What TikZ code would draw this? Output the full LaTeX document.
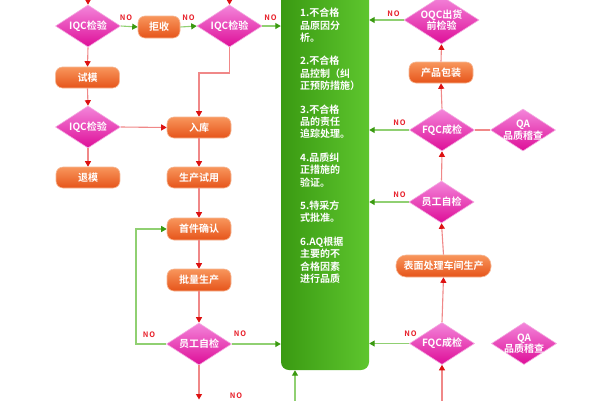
\documentclass[tikz,border=0pt]{standalone}
\usepackage{fontspec}
\setmainfont{Noto Sans CJK SC}[BoldFont={Noto Sans CJK SC Bold}]
\usetikzlibrary{shapes.geometric,arrows.meta}
\definecolor{diaTop}{HTML}{F385DA}
\definecolor{diaBot}{HTML}{DE0E98}
\definecolor{diaEdge}{HTML}{F4A8E0}
\definecolor{boxTop}{HTML}{F8965C}
\definecolor{boxBot}{HTML}{E6541A}
\definecolor{boxEdge}{HTML}{F6B896}
\definecolor{panL}{HTML}{3A9A12}
\definecolor{panR}{HTML}{5EC62E}
\definecolor{redLine}{HTML}{F08888}
\definecolor{redTip}{HTML}{DD1111}
\definecolor{greenLine}{HTML}{90D072}
\definecolor{greenTip}{HTML}{3A9A10}
\definecolor{noRed}{HTML}{E8202A}
\tikzset{
  dia/.style={diamond, shape aspect=1.55, inner sep=-3pt, minimum width=65pt, minimum height=42pt,
    top color=diaTop, bottom color=diaBot, draw=diaEdge, line width=0.6pt, text=white,
    font=\bfseries\fontsize{10}{11.5}\selectfont, align=center},
  obox/.style={rectangle, rounded corners=7pt, minimum width=64pt, minimum height=21pt, inner sep=0pt,
    top color=boxTop, bottom color=boxBot, draw=boxEdge, line width=0.6pt, text=white,
    font=\bfseries\fontsize{10}{11.5}\selectfont},
  ra/.style={draw=redLine, line width=1.1pt, -{Triangle[length=5.5pt,width=6pt,color=redTip]}},
  ga/.style={draw=greenLine, line width=1.1pt, -{Triangle[length=5.5pt,width=6pt,color=greenTip]}},
  nolab/.style={text=noRed, font=\bfseries\fontsize{7.5}{8}\selectfont\addfontfeature{LetterSpace=12}, inner sep=0pt},
  panel/.style={rectangle, rounded corners=8pt, left color=panL, right color=panR, draw=none,
    minimum width=88pt, minimum height=390pt, inner sep=0pt},
  ptext/.style={text=white, font=\bfseries\fontsize{10}{12.4}\selectfont, align=left, inner sep=0pt}
}
\begin{document}
\begin{tikzpicture}[x=1pt,y=-1pt]
\useasboundingbox (0,0) rectangle (600,400);
\fill[white] (0,0) rectangle (600,400);

% green panel
\node[panel] (pn) at (325,175) {};
\node[ptext, anchor=north west] (ptxt) at (300,8) {1.不合格\\品原因分\\析。\\[11pt]2.不合格\\品控制（纠\\正预防措施）\\[11pt]3.不合格\\品的责任\\追踪处理。\\[11pt]4.品质纠\\正措施的\\验证。\\[11pt]5.特采方\\式批准。\\[11pt]6.AQ根据\\主要的不\\合格因素\\进行品质};

% left column
\node[dia] (d1) at (88,26) {IQC检验};
\node[obox, minimum width=42pt, minimum height=22pt] (r1) at (159,27) {拒收};
\node[dia] (d2) at (229.5,26) {IQC检验};
\node[obox] (s1) at (87.5,77.5) {试模};
\node[dia] (d3) at (88,127) {IQC检验};
\node[obox] (t1) at (88,177.5) {退模};
\node[obox] (rk) at (199,127.5) {入库};
\node[obox] (sc) at (199,177.5) {生产试用};
\node[obox, minimum height=22pt] (sj) at (199,229) {首件确认};
\node[obox, minimum height=22pt] (pl) at (199,280) {批量生产};
\node[dia] (yg) at (199,344) {员工自检};

% right column
\node[dia, minimum width=75pt, minimum height=48pt] (oqc) at (441.5,20) {OQC出货\\前检验};
\node[obox] (bz) at (441,72.5) {产品包装};
\node[dia] (fqc1) at (442,130) {FQC成检};
\node[dia] (qa1) at (523,130) {QA\\品质稽查};
\node[dia] (yg2) at (441.5,202) {员工自检};
\node[obox, minimum width=95pt, minimum height=22pt, rounded corners=10pt] (bm) at (443.5,266) {表面处理车间生产};
\node[dia] (fqc2) at (442,343.5) {FQC成检};
\node[dia] (qa2) at (524,343.5) {QA\\品质稽查};

% free ends
\coordinate (in1) at (88,-14);
\coordinate (in2) at (229.5,-14);
\coordinate (out1) at (199,399.5);
\coordinate (gb) at (295,414);
\coordinate (rb) at (442,414);
\coordinate (bend) at (229.5,73);
\coordinate (loop) at (136,344);

% left connectors
\draw[ra] (in1) -- (d1.north);
\draw[ra] (in2) -- (d2.north);
\draw[ga] (d1.east) -- (r1.west);
\node[nolab] (n1) at (126,17.5) {NO};
\draw[ga] (r1.east) -- (d2.west);
\node[nolab] (n2) at (188.5,17.5) {NO};
\draw[ga] (d2.east) -- (d2.east -| pn.west);
\node[nolab] (n3) at (270.5,17.5) {NO};
\draw[ra] (d1.south) -- (s1.north);
\draw[ra] (s1.south) -- (d3.north);
\draw[ra] (d3.south) -- (t1.north);
\draw[ra] (d3.east) -- (rk.west);
\draw[ra] (d2.south) -- (bend) -| (rk.north);
\draw[ra] (rk.south) -- (sc.north);
\draw[ra] (sc.south) -- (sj.north);
\draw[ra] (sj.south) -- (pl.north);
\draw[ra] (pl.south) -- (yg.north);
\draw[ra] (yg.south) -- (out1);
\draw[ga] (yg.west) -- (loop) |- (sj.west);
\node[nolab] (n4) at (149,334.5) {NO};
\draw[ga] (yg.east) -- (yg.east -| pn.west);
\node[nolab] (n5) at (240,333.5) {NO};
\draw[ga] (gb) -- (gb |- pn.south);
\node[nolab] (n6) at (236,395.5) {NO};

% right connectors
\draw[ga] (oqc.west) -- (oqc.west -| pn.east);
\node[nolab] (n7) at (393.5,13.5) {NO};
\draw[ra] (bz.north) -- (oqc.south);
\draw[ra] (fqc1.north) -- (bz.south);
\draw[draw=redLine, line width=1.1pt] (fqc1.east) -- (qa1.west);
\draw[ga] (fqc1.west) -- (fqc1.west -| pn.east);
\node[nolab] (n8) at (399.5,123) {NO};
\draw[ra] (yg2.north) -- (fqc1.south);
\draw[ga] (yg2.west) -- (yg2.west -| pn.east);
\node[nolab] (n9) at (399.5,194.5) {NO};
\draw[ra] (bm.north) -- (yg2.south);
\draw[ra] (fqc2.north) -- (bm.south);
\draw[ga] (fqc2.west) -- (fqc2.west -| pn.east);
\node[nolab] (n10) at (410.5,333.5) {NO};
\draw[ra] (rb) -- (fqc2.south);
\end{tikzpicture}
\end{document}
